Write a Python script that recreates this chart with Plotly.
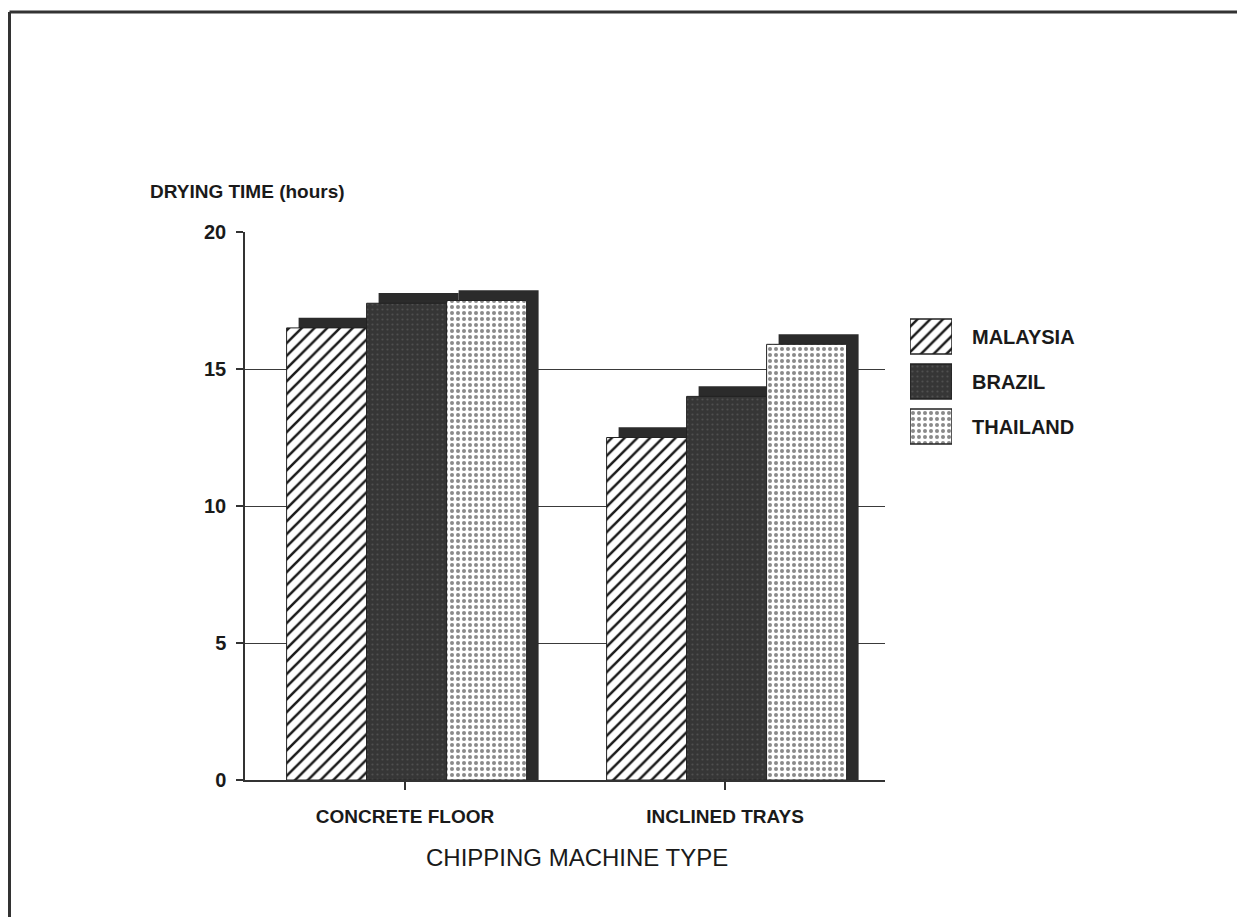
import plotly.graph_objects as go

# ---- data ----
categories = ["CONCRETE FLOOR", "INCLINED TRAYS"]
series_names = ["MALAYSIA", "BRAZIL", "THAILAND"]
malaysia = [16.5, 12.5]
brazil = [17.4, 14.0]
thailand = [17.5, 15.9]
y_ticks = [0, 5, 10, 15, 20]

# ---- geometry (page pixels; page body has an 8px margin) ----
OFF = 8
W, H = 1245, 917
L, T, B = 245, 232, 780          # plot area left / top / bottom, page px
R_MARGIN = 100
PW = W - (L - OFF) - R_MARGIN
PH = B - T

def px(x):
    return (x - L) / PW

def py(y):
    return (B - y) / PH

styles = {
    "MALAYSIA": dict(pattern=dict(shape="/", fgcolor="#1a1a1a", bgcolor="#ffffff", size=9, solidity=0.28, fillmode="replace")),
    "BRAZIL": dict(pattern=dict(shape=".", fgcolor="#505050", bgcolor="#363636", size=5, solidity=0.15, fillmode="replace")),
    "THAILAND": dict(pattern=dict(shape=".", fgcolor="#8a8a8a", bgcolor="#ffffff", size=6, solidity=0.35, fillmode="replace")),
}

values = [malaysia, brazil, thailand]
bar_w = 0.25
start_off = -0.37
depth_x = 0.0375   # 3D depth, x units
depth_y = 0.37     # 3D depth, y units
shadow_col = "#2b2b2b"

fig = go.Figure()
for i, (name, vals) in enumerate(zip(series_names, values)):
    off = start_off + i * bar_w
    fig.add_trace(go.Bar(
        x=categories, y=[v + depth_y for v in vals], base=0,
        width=bar_w, offset=off + depth_x,
        marker=dict(color=shadow_col, line=dict(width=0)),
        showlegend=False, hoverinfo="skip"))
    fig.add_trace(go.Bar(
        x=categories, y=vals, name=name,
        width=bar_w, offset=off,
        marker=dict(color=styles[name]["pattern"]["bgcolor"], pattern=styles[name]["pattern"],
                    line=dict(width=1, color="#222222")),
        showlegend=False))

# legend swatches as bars on a small separate axis
for i, name in enumerate(series_names):
    fig.add_trace(go.Bar(
        x=[1], y=[i], orientation="h", width=0.78,
        marker=dict(color=styles[name]["pattern"]["bgcolor"], pattern=styles[name]["pattern"],
                    line=dict(width=1.5, color="#222222")),
        xaxis="x2", yaxis="y2", showlegend=False, hoverinfo="skip"))

font_main = "Liberation Sans, Arial, sans-serif"

annotations = []
for i, name in enumerate(series_names):
    annotations.append(dict(
        xref="paper", yref="y2", x=px(970), y=i, xanchor="left", yanchor="middle",
        text=f"<b>{name}</b>", showarrow=False,
        font=dict(family=font_main, size=20, color="#1a1a1a")))

annotations.append(dict(
    xref="paper", yref="paper", x=px(148), y=py(191), xanchor="left", yanchor="middle",
    text="<b>DRYING TIME (hours)</b>", showarrow=False,
    font=dict(family=font_main, size=19, color="#1a1a1a")))
annotations.append(dict(
    xref="paper", yref="paper", x=px(577), y=py(857), xanchor="center", yanchor="middle",
    text="CHIPPING MACHINE TYPE", showarrow=False,
    font=dict(family=font_main, size=24, color="#1a1a1a")))

shapes = [
    dict(type="line", xref="paper", yref="paper", x0=px(9.5), x1=px(W + 20), y0=py(12), y1=py(12),
         line=dict(color="#333333", width=3)),
    dict(type="line", xref="paper", yref="paper", x0=px(9.5), x1=px(9.5), y0=py(12), y1=py(H + 20),
         line=dict(color="#333333", width=3)),
]

fig.update_layout(
    width=W, height=H,
    margin=dict(l=L - OFF, r=R_MARGIN, t=T - OFF, b=H - (B - OFF), pad=0),
    paper_bgcolor="#ffffff", plot_bgcolor="#ffffff",
    barmode="overlay",
    xaxis=dict(
        domain=[0, 640 / PW], type="category", range=[-0.5, 1.5],
        showline=True, linecolor="#333333", linewidth=1.5,
        ticks="outside", ticklen=8, tickcolor="#333333", tickwidth=1.5,
        ticklabelstandoff=10,
        tickfont=dict(family=font_main, size=19, color="#1a1a1a"),
        tickprefix="<b>", ticksuffix="</b>",
        showgrid=False, zeroline=False,
    ),
    yaxis=dict(
        range=[0, 20], tickvals=y_ticks, ticktext=[f"<b>{v}</b>" for v in y_ticks],
        showline=True, linecolor="#333333", linewidth=1.5,
        ticks="outside", ticklen=7, tickcolor="#333333", tickwidth=1.5,
        ticklabelstandoff=6,
        tickfont=dict(family=font_main, size=20, color="#1a1a1a"),
        showgrid=True, gridcolor="#3a3a3a", gridwidth=1.2, zeroline=False,
    ),
    xaxis2=dict(domain=[px(910), px(952)], range=[0, 1], visible=False, anchor="y2", fixedrange=True),
    yaxis2=dict(domain=[py(449), py(314)], range=[2.5, -0.5], visible=False, anchor="x2", fixedrange=True),
    annotations=annotations,
    shapes=shapes,
)

fig.write_html("out.html")
